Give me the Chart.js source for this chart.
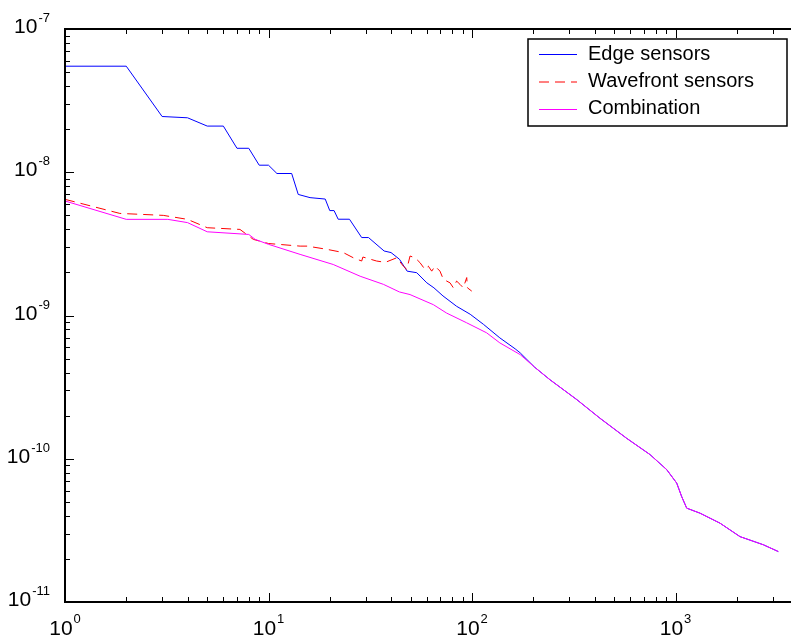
<!DOCTYPE html>
<html>
<head>
<meta charset="utf-8">
<title>Edge vs wavefront sensors</title>
<script src="https://cdn.jsdelivr.net/npm/chart.js@4/dist/chart.umd.min.js"></script>
<style>
  html, body { margin: 0; padding: 0; background: #fff; overflow: hidden; }
  #wrap { width: 880px; height: 639px; }
</style>
</head>
<body>
<div id="wrap"><canvas id="sensorChart" width="880" height="639"></canvas></div>
<script>
// --- data ---
const edgeX = [1, 2, 3, 4, 5, 6, 7, 8, 9, 10, 11, 13, 14, 16, 19, 20, 21, 22, 25, 28.7, 31, 37, 40, 44, 48,
  53.5, 60, 65, 72, 84, 98, 114, 137, 163, 172.6, 203, 241.7, 327, 425, 575, 749, 905, 1014, 1072, 1135,
  1319, 1655, 2075, 2700, 3200];
const edgeY = [5.5e-8, 5.5e-8, 2.45e-8, 2.4e-8, 2.1e-8, 2.1e-8, 1.47e-8, 1.47e-8, 1.12e-8, 1.12e-8, 9.8e-9,
  9.8e-9, 7.0e-9, 6.65e-9, 6.5e-9, 5.4e-9, 5.4e-9, 4.7e-9, 4.7e-9, 3.5e-9, 3.5e-9, 2.82e-9, 2.75e-9,
  2.47e-9, 2.04e-9, 1.99e-9, 1.69e-9, 1.56e-9, 1.37e-9, 1.16e-9, 1.02e-9, 8.66e-10, 6.98e-10, 5.85e-10,
  5.48e-10, 4.36e-10, 3.56e-10, 2.59e-10, 1.92e-10, 1.39e-10, 1.07e-10, 8.4e-11, 6.76e-11, 5.45e-11,
  4.52e-11, 4.17e-11, 3.55e-11, 2.86e-11, 2.51e-11, 2.25e-11];

const waveX = [1, 1.86, 3.04, 4, 5, 7.24, 8.42, 10, 14.3, 15.5, 19.3, 23.3, 26.1, 28.7, 29.1, 34, 37.5,
  42.7, 46, 47.8, 49.6, 52.5, 55.5, 58.7, 61, 63.4, 65.8, 69.6, 72.3, 78, 81, 84, 87.3, 90.6, 94.2, 95, 99.7];
const waveY = [6.47e-9, 5.16e-9, 5.0e-9, 4.69e-9, 4.1e-9, 3.99e-9, 3.4e-9, 3.18e-9, 3.05e-9, 3.05e-9,
  2.9e-9, 2.75e-9, 2.53e-9, 2.4e-9, 2.56e-9, 2.4e-9, 2.35e-9, 2.53e-9, 2.21e-9, 2.1e-9, 2.6e-9, 2.53e-9,
  2.34e-9, 2.1e-9, 2.21e-9, 2.04e-9, 2.21e-9, 2.04e-9, 1.79e-9, 1.69e-9, 1.56e-9, 1.74e-9, 1.65e-9,
  1.56e-9, 1.84e-9, 1.56e-9, 1.48e-9];

const comboX = [1, 2, 3.2, 4, 5, 8, 8.6, 10, 14.3, 20.8, 28.2, 36.7, 44, 49.6, 64.6, 75, 94, 118, 137,
  172.6, 203, 241.7, 327, 425, 575, 749, 905, 1014, 1072, 1135, 1319, 1655, 2075, 2700, 3200];
const comboY = [6.3e-9, 4.69e-9, 4.69e-9, 4.45e-9, 3.84e-9, 3.68e-9, 3.4e-9, 3.14e-9, 2.67e-9, 2.27e-9,
  1.88e-9, 1.65e-9, 1.46e-9, 1.4e-9, 1.19e-9, 1.04e-9, 8.9e-10, 7.57e-10, 6.44e-10, 5.33e-10, 4.36e-10,
  3.56e-10, 2.59e-10, 1.92e-10, 1.39e-10, 1.07e-10, 8.4e-11, 6.76e-11, 5.45e-11, 4.52e-11, 4.17e-11,
  3.55e-11, 2.86e-11, 2.51e-11, 2.25e-11];

const seriesNames = ['Edge sensors', 'Wavefront sensors', 'Combination'];
const seriesColors = ['#0000ff', '#ff0000', '#ff00ff'];
const xTicks = [1, 10, 100, 1000, 10000];
const xTickExp = ['0', '1', '2', '3', '4'];
const yTicks = [1e-7, 1e-8, 1e-9, 1e-10, 1e-11];
const yTickExp = ['-7', '-8', '-9', '-10', '-11'];

document.addEventListener("DOMContentLoaded", function() {

    function toPoints(xs, ys) {
        return xs.map(function(x, i) { return { x: x, y: ys[i] }; });
    }

    const bigFont = '21px "Liberation Sans Narrow", "Liberation Sans", Arial, sans-serif';
    const expFont = '13px "Liberation Sans Narrow", "Liberation Sans", Arial, sans-serif';

    // draws the box, the inward ticks, the 10^n labels and the boxed legend
    const axesBox = {
        id: 'axesBox',
        afterDatasetsDraw: function(chart) {
            const ctx = chart.ctx;
            const area = chart.chartArea;
            const xs = chart.scales.x;
            const ys = chart.scales.y;

            ctx.save();
            ctx.strokeStyle = '#000';
            ctx.lineWidth = 1;

            // minor + major ticks on x (bottom and top)
            for (let d = 0; d < 4; d++) {
                for (let m = 1; m <= 9; m++) {
                    const px = Math.round(xs.getPixelForValue(m * Math.pow(10, d))) + 0.5;
                    const len = m === 1 ? 9 : 5;
                    ctx.beginPath();
                    ctx.moveTo(px, area.bottom);
                    ctx.lineTo(px, area.bottom - len);
                    ctx.moveTo(px, area.top);
                    ctx.lineTo(px, area.top + len);
                    ctx.stroke();
                }
            }
            // ticks on y (left and right)
            for (let d = -11; d < -7; d++) {
                for (let m = 1; m <= 9; m++) {
                    const py = Math.round(ys.getPixelForValue(m * Math.pow(10, d))) + 0.5;
                    const len = m === 1 ? 9 : 5;
                    ctx.beginPath();
                    ctx.moveTo(area.left, py);
                    ctx.lineTo(area.left + len, py);
                    ctx.moveTo(area.right, py);
                    ctx.lineTo(area.right - len, py);
                    ctx.stroke();
                }
            }

            // frame
            ctx.lineWidth = 2;
            ctx.strokeRect(area.left, area.top, area.right - area.left, area.bottom - area.top);

            // x labels, centred under the tick
            ctx.fillStyle = '#000';
            ctx.textBaseline = 'alphabetic';
            ctx.textAlign = 'left';
            xTicks.forEach(function(v, i) {
                const px = xs.getPixelForValue(v);
                ctx.font = bigFont;
                const wBase = ctx.measureText('10').width;
                ctx.font = expFont;
                const wExp = ctx.measureText(xTickExp[i]).width;
                const x0 = px - (wBase + 1 + wExp) / 2;
                ctx.font = bigFont;
                ctx.fillText('10', x0, 635);
                ctx.font = expFont;
                ctx.fillText(xTickExp[i], x0 + wBase + 1, 623);
            });

            // y labels, right aligned left of the axis
            ctx.textAlign = 'right';
            yTicks.forEach(function(v, i) {
                const py = ys.getPixelForValue(v);
                ctx.font = expFont;
                const wExp = ctx.measureText(yTickExp[i]).width;
                ctx.fillText(yTickExp[i], 50, py - 7);
                ctx.font = bigFont;
                ctx.fillText('10', 50 - wExp - 1, py + 4);
            });

            // legend box
            const lx = 528, ly = 39, lw = 259, lh = 87;
            ctx.fillStyle = '#fff';
            ctx.fillRect(lx, ly, lw, lh);
            ctx.lineWidth = 1.5;
            ctx.strokeStyle = '#000';
            ctx.strokeRect(lx, ly, lw, lh);
            const rowsLine = [54.5, 82, 109.5];
            const rowsText = [59.5, 87, 114];
            ctx.textAlign = 'left';
            ctx.font = '20px "Liberation Sans", Arial, sans-serif';
            seriesNames.forEach(function(name, i) {
                ctx.strokeStyle = seriesColors[i];
                ctx.lineWidth = 1;
                ctx.setLineDash(i === 1 ? [10, 6] : []);
                ctx.beginPath();
                ctx.moveTo(539, rowsLine[i]);
                ctx.lineTo(577, rowsLine[i]);
                ctx.stroke();
                ctx.setLineDash([]);
                ctx.fillStyle = '#000';
                ctx.fillText(name, 588, rowsText[i]);
            });
            ctx.restore();
        }
    };

    const canvas = document.getElementById('sensorChart');
    new Chart(canvas.getContext('2d'), {
        type: 'line',
        data: {
            datasets: [
                {
                    label: seriesNames[0],
                    data: toPoints(edgeX, edgeY),
                    borderColor: seriesColors[0],
                    borderWidth: 1,
                    order: 3
                },
                {
                    label: seriesNames[1],
                    data: toPoints(waveX, waveY),
                    borderColor: seriesColors[1],
                    borderWidth: 1,
                    borderDash: [10, 6],
                    order: 2
                },
                {
                    // drawn last so it sits on top of the blue where they merge
                    label: seriesNames[2],
                    data: toPoints(comboX, comboY),
                    borderColor: seriesColors[2],
                    borderWidth: 1,
                    order: 1
                }
            ]
        },
        options: {
            responsive: false,
            animation: false,
            devicePixelRatio: 1,
            layout: { padding: { left: 65, top: 29, right: 1, bottom: 37 } },
            elements: { point: { radius: 0 }, line: { tension: 0 } },
            scales: {
                x: { type: 'logarithmic', min: 1, max: 10000, display: false },
                y: { type: 'logarithmic', min: 1e-11, max: 1e-7, display: false }
            },
            plugins: {
                legend: { display: false },
                tooltip: { enabled: false }
            }
        },
        plugins: [axesBox]
    });
});
</script>
</body>
</html>
